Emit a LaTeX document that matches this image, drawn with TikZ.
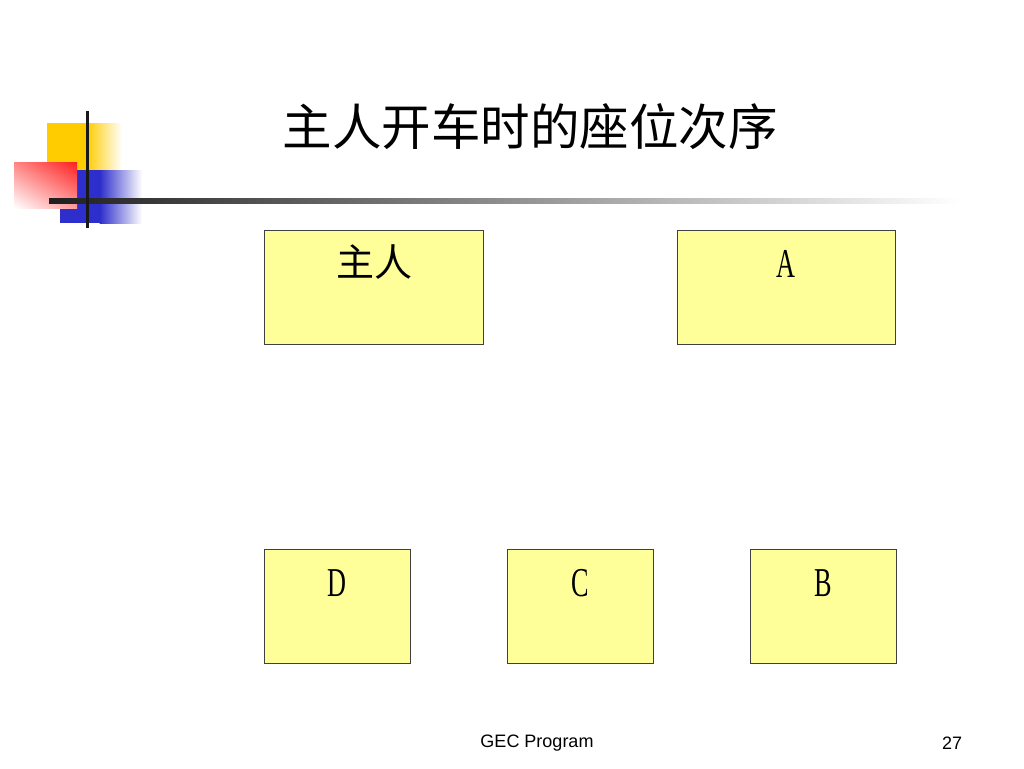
\documentclass[tikz,border=0pt]{standalone}
\usepackage{fontspec}
\setmainfont{Liberation Serif}
\newfontfamily\cjk{Noto Sans CJK SC}
\newfontfamily\footfont{Liberation Sans}
\usetikzlibrary{calc,shadings}
\definecolor{boxfill}{HTML}{FFFF99}
\definecolor{boxline}{HTML}{404040}
\definecolor{logoyellow}{HTML}{FFCC00}
\definecolor{logoblue}{HTML}{2E2ECC}
\definecolor{logored}{HTML}{FF2020}
\tikzset{
  seat/.style={draw=boxline, line width=1pt, fill=boxfill, minimum height=114pt, inner sep=0pt},
  cjklabel/.style={font=\cjk\fontsize{38}{38}\selectfont, inner sep=0pt},
  letterlabel/.style={font=\fontsize{41}{41}\selectfont, inner sep=0pt, xscale=0.64},
  foot/.style={font=\footfont\fontsize{18}{18}\selectfont, inner sep=0pt}
}
\begin{document}
\begin{tikzpicture}[x=1pt,y=-1pt]
\useasboundingbox (0,0) rectangle (1024,768);
% logo
\fill[logoyellow] (47,123) rectangle (87,170);
\shade[left color=logoyellow, right color=white] (86.5,123) rectangle (122,170);
\fill[logoblue] (60,170) rectangle (100,223);
\shade[left color=logoblue, right color=white] (99.5,170) rectangle (142,223);
\shade[upper right=logored, upper left=logored!55, lower right=logored!45, lower left=white] (14,162) rectangle (77,208);
\shade[left color=black!88, right color=white] (49,198.5) rectangle (960,203.5);
\draw[black!90, line width=3pt] (87,111) -- (87,228);
% title
\node[font=\cjk\fontsize{49.5}{49.5}\selectfont, inner sep=0pt] (title) at (530,127) {主人开车时的座位次序};
% seats
\node[seat, minimum width=219pt] (host) at (373.5,287) {};
\node[seat, minimum width=218pt] (A) at (786,287) {};
\node[seat, minimum width=146pt] (D) at (337,606) {};
\node[seat, minimum width=146pt] (C) at (580,606) {};
\node[seat, minimum width=146pt] (B) at (823,606) {};
\node[cjklabel] (thost) at (374,262) {主人};
\node[letterlabel] (tA) at (786,264) {A};
\node[letterlabel] (tD) at (337,583) {D};
\node[letterlabel] (tC) at (580,583) {C};
\node[letterlabel] (tB) at (823,583) {B};
% footer
\node[foot] (footer) at (537,743) {GEC Program};
\node[foot] (page) at (952,743) {27};
\end{tikzpicture}
\end{document}
